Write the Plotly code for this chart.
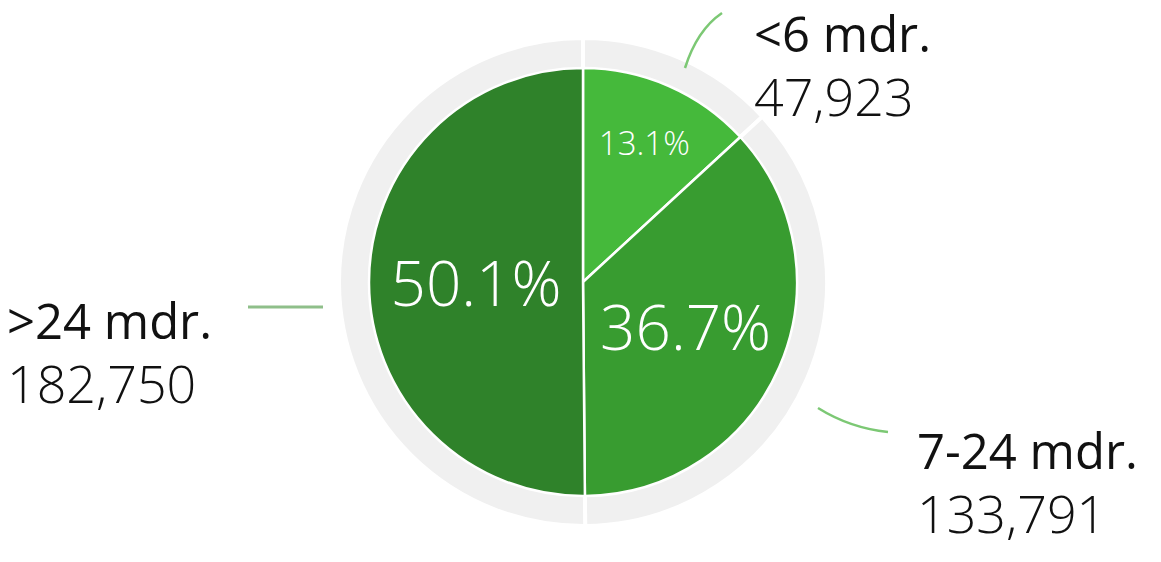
import plotly.graph_objects as go

categories = ["<6 mdr.", "7-24 mdr.", ">24 mdr."]
values = [47923, 133791, 182750]
slice_colors = ["#45b93b", "#389c30", "#2f822a"]

# page has an ~8px body margin; lay out in reference pixels and offset
OX, OY = 8, 8
W, H = 1161 - 2 * OX, 562 - 2 * OY
cx, cy = 583, 282          # pie centre in reference pixels (from top-left)
r_out, r_in = 244, 214

def px(x, y):
    return (x - OX) / W, 1 - (y - OY) / H

def dom(r):
    x0, y0 = px(cx - r, cy + r)
    x1, y1 = px(cx + r, cy - r)
    return dict(x=[x0, x1], y=[y0, y1])

fig = go.Figure()
# grey outer ring
fig.add_trace(go.Pie(
    values=values, labels=categories, sort=False, direction="clockwise", rotation=0,
    domain=dom(r_out), marker=dict(colors=["#f0f0f0"] * 3, line=dict(color="white", width=4)),
    textinfo="none", hoverinfo="skip", showlegend=False,
))
# inner pie
fig.add_trace(go.Pie(
    values=values, labels=categories, sort=False, direction="clockwise", rotation=0,
    domain=dom(r_in), marker=dict(colors=slice_colors, line=dict(color="white", width=2.5)),
    texttemplate="%{percent:.1%}", textposition="inside", insidetextorientation="horizontal",
    textfont=dict(color="white", size=[33, 62, 62], family="Open Sans", weight=300),
    showlegend=False,
))

# outside labels
label_pos = {"<6 mdr.": (752, 66), "7-24 mdr.": (915, 482), ">24 mdr.": (5, 352)}
for cat, v in zip(categories, values):
    x, y = px(*label_pos[cat])
    fig.add_annotation(
        x=x, y=y, xref="paper", yref="paper", xanchor="left", yanchor="middle",
        align="left", showarrow=False,
        text=f"<span style='font-weight:500'>{cat}</span><br><span style='font-weight:300;font-size:52px'>{v:,}</span>",
        font=dict(family="Open Sans", size=49, color="#111111"),
    )

# leader lines (paths in paper coordinates)
def path(points, q=None):
    (x0, y0), (x1, y1) = px(*points[0]), px(*points[1])
    if q is None:
        return f"M {x0} {y0} L {x1} {y1}"
    qx, qy = px(*q)
    return f"M {x0} {y0} Q {qx} {qy} {x1} {y1}"

fig.add_shape(type="path", xref="paper", yref="paper",
              path=path([(685, 68), (722, 13)], q=(697, 30)),
              line=dict(color="#7cc874", width=2.5))
fig.add_shape(type="path", xref="paper", yref="paper",
              path=path([(248, 307), (323, 307)]),
              line=dict(color="#8fbf8a", width=3))
fig.add_shape(type="path", xref="paper", yref="paper",
              path=path([(818, 408), (888, 432)], q=(850, 428)),
              line=dict(color="#7cc874", width=2.5))

fig.update_layout(
    width=W, height=H, margin=dict(l=0, r=0, t=0, b=0),
    paper_bgcolor="white", plot_bgcolor="white",
)
fig.write_html("out.html")
